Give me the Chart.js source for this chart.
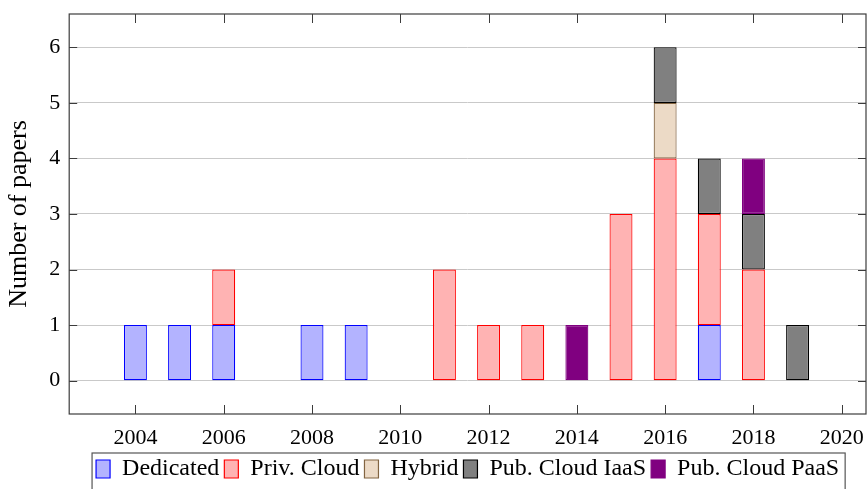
<!DOCTYPE html>
<html>
<head>
<meta charset="utf-8">
<script src="https://cdn.jsdelivr.net/npm/chart.js@4/dist/chart.umd.min.js"></script>
<style>
  html, body { margin: 0; padding: 0; background: #fff; overflow: hidden; }
  #wrap { width: 867px; height: 489px; }
</style>
</head>
<body>
<div id="wrap"><canvas id="papersChart" width="867" height="489"></canvas></div>
<script>
// Papers per year, split by deployment type (zero years left out)
const dedicated = [[2004, 1], [2005, 1], [2006, 1], [2008, 1], [2009, 1], [2017, 1]];
const privCloud = [[2006, 1], [2011, 2], [2012, 1], [2013, 1], [2015, 3], [2016, 4], [2017, 2], [2018, 2]];
const hybrid = [[2016, 1]];
const pubIaas = [[2016, 1], [2017, 1], [2018, 1], [2019, 1]];
const pubPaas = [[2014, 1], [2018, 1]];

const seriesNames = ['Dedicated', 'Priv. Cloud', 'Hybrid', 'Pub. Cloud IaaS', 'Pub. Cloud PaaS'];
const xTicks = [2004, 2006, 2008, 2010, 2012, 2014, 2016, 2018, 2020];
const yTicks = [0, 1, 2, 3, 4, 5, 6];

const FONT = "'Liberation Serif', 'Times New Roman', serif";
const AXIS = '#3c3c3c';

function toPoints(arr) {
    return arr.map(p => ({ x: p[0], y: p[1] }));
}

function makeSet(label, data, fill, stroke) {
    return {
        label: label,
        data: toPoints(data),
        backgroundColor: fill,
        borderColor: stroke,
        borderWidth: 1.2,
        borderSkipped: false,
        categoryPercentage: 1,
        barPercentage: 0.52
    };
}

// pgfplots-like frame: box around the plot, inward tick marks, bordered legend
const framePlugin = {
    id: 'frame',
    afterDraw(chart) {
        const ctx = chart.ctx;
        const a = chart.chartArea;
        const xs = chart.scales.x;
        const ys = chart.scales.y;
        ctx.save();
        ctx.strokeStyle = AXIS;
        ctx.lineWidth = 1.2;
        ctx.strokeRect(a.left, a.top, a.right - a.left, a.bottom - a.top);
        ctx.lineWidth = 1;
        ctx.beginPath();
        xTicks.forEach(v => {
            const px = Math.round(xs.getPixelForValue(v)) + 0.5;
            ctx.moveTo(px, a.bottom); ctx.lineTo(px, a.bottom - 9);
            ctx.moveTo(px, a.top); ctx.lineTo(px, a.top + 9);
        });
        yTicks.forEach(v => {
            const py = Math.round(ys.getPixelForValue(v)) + 0.5;
            ctx.moveTo(a.left, py); ctx.lineTo(a.left + 8, py);
            ctx.moveTo(a.right, py); ctx.lineTo(a.right - 8, py);
        });
        ctx.stroke();

        const boxes = chart.legend.legendHitBoxes;
        if (boxes && boxes.length) {
            const first = boxes[0];
            const last = boxes[boxes.length - 1];
            const l = first.left - 4;
            const r = last.left + last.width + 6;
            const t = first.top - 4;
            ctx.strokeStyle = '#555';
            ctx.lineWidth = 1.2;
            ctx.strokeRect(l, t, r - l, 60);
        }
        ctx.restore();
    }
};

const ctx = document.getElementById('papersChart').getContext('2d');
const papersChart = new Chart(ctx, {
    type: 'bar',
    data: {
        datasets: [
            makeSet(seriesNames[0], dedicated, 'rgb(179,179,255)', 'rgb(0,0,255)'),
            makeSet(seriesNames[1], privCloud, 'rgb(255,179,179)', 'rgb(255,0,0)'),
            makeSet(seriesNames[2], hybrid, 'rgb(236,218,198)', 'rgb(130,100,65)'),
            makeSet(seriesNames[3], pubIaas, 'rgb(128,128,128)', 'rgb(0,0,0)'),
            makeSet(seriesNames[4], pubPaas, 'rgb(128,0,128)', 'rgb(128,0,128)')
        ]
    },
    options: {
        responsive: false,
        animation: false,
        layout: { padding: { left: 4, right: 1, top: 14, bottom: -2 } },
        plugins: {
            tooltip: { enabled: false },
            legend: {
                position: 'bottom',
                fullSize: false,
                labels: {
                    font: { family: FONT, size: 24 },
                    color: '#000',
                    boxWidth: 14,
                    boxHeight: 18,
                    padding: 5
                }
            }
        },
        scales: {
            x: {
                type: 'linear',
                stacked: true,
                offset: false,
                min: 2002.5,
                max: 2020.55,
                afterBuildTicks: scale => {
                    scale.ticks = xTicks.map(v => ({ value: v }));
                },
                afterFit: scale => {
                    scale.height = 38;
                    scale.paddingLeft = 0;
                    scale.paddingRight = 0;
                },
                ticks: {
                    font: { family: FONT, size: 22, lineHeight: 1 },
                    color: '#000',
                    padding: 5,
                    maxRotation: 0,
                    callback: v => String(v)
                },
                grid: { display: false, offset: false },
                border: { display: false }
            },
            y: {
                stacked: true,
                min: -0.6,
                max: 6.6,
                afterBuildTicks: scale => {
                    scale.ticks = yTicks.map(v => ({ value: v }));
                },
                afterFit: scale => {
                    scale.paddingTop = 0;
                    scale.paddingBottom = 0;
                },
                ticks: {
                    font: { family: FONT, size: 22 },
                    color: '#000',
                    padding: 9
                },
                grid: { color: '#c9c9c9', lineWidth: 1, drawTicks: false },
                border: { display: false },
                title: {
                    display: true,
                    text: 'Number of papers',
                    font: { family: FONT, size: 26 },
                    color: '#000',
                    padding: { top: 0, bottom: 5 }
                }
            }
        }
    },
    plugins: [framePlugin]
});
</script>
</body>
</html>
